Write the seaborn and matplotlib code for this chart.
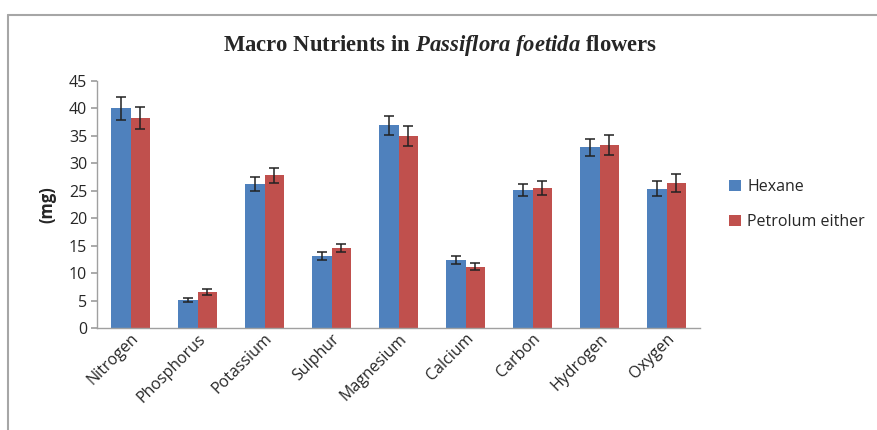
import pandas as pd
import numpy as np
import matplotlib.pyplot as plt
import seaborn as sns
from matplotlib.lines import Line2D

# ── Data ──────────────────────────────────────────────────────────────────────
nutrients = ['Nitrogen', 'Phosphorus', 'Potassium', 'Sulphur', 'Magnesium',
             'Calcium', 'Carbon', 'Hydrogen', 'Oxygen']
hexane     = [40.0, 5.1, 26.2, 13.1, 36.9, 12.4, 25.1, 32.9, 25.4]
hexane_err = [2.1, 0.3, 1.3, 0.7, 1.8, 0.7, 1.1, 1.6, 1.3]
petrol     = [38.3, 6.6, 27.8, 14.6, 35.0, 11.2, 25.5, 33.4, 26.4]
petrol_err = [2.0, 0.5, 1.3, 0.7, 1.8, 0.7, 1.3, 1.8, 1.6]
solvents = ['Hexane', 'Petrolum either']
colors = ['#4F81BD', '#C0504D']

df = pd.DataFrame({
    'Nutrient': nutrients * 2,
    'Solvent': [solvents[0]] * len(nutrients) + [solvents[1]] * len(nutrients),
    'mg': hexane + petrol,
    'err': hexane_err + petrol_err,
})

# ── Plot ──────────────────────────────────────────────────────────────────────
sns.set_theme(style='white')
plt.rcParams['font.family'] = ['Open Sans', 'DejaVu Sans']
plt.rcParams['mathtext.fontset'] = 'custom'
plt.rcParams['mathtext.rm'] = 'Liberation Serif:bold'
plt.rcParams['mathtext.it'] = 'Liberation Serif:italic:bold'
plt.rcParams['mathtext.bf'] = 'Liberation Serif:bold'

fig = plt.figure(figsize=(8.78, 4.30), dpi=100)
ax = fig.add_axes([97 / 878, 1 - 328 / 430, 603 / 878, 247 / 430])

sns.barplot(data=df, x='Nutrient', y='mg', hue='Solvent', palette=colors,
            order=nutrients, hue_order=solvents, width=0.57, gap=0,
            errorbar=None, saturation=1, ax=ax, edgecolor='none')

# error bars on top of each bar
for cont, errs in zip(ax.containers, [hexane_err, petrol_err]):
    xs = [p.get_x() + p.get_width() / 2 for p in cont.patches]
    ys = [p.get_height() for p in cont.patches]
    ax.errorbar(xs, ys, yerr=errs, fmt='none', ecolor='#222222',
                elinewidth=1.1, capsize=3.5, capthick=1.1)

ax.set_ylim(0, 45)
ax.set_yticks(range(0, 50, 5))
ax.set_xlim(-0.5, len(nutrients) - 0.5)
ax.set_xlabel('')
ax.set_ylabel('(mg)', fontsize=12, fontweight='bold', labelpad=9)
ax.tick_params(axis='y', labelsize=11.5, length=4, color='#A0A0A0',
               direction='out', left=True, pad=3)
ax.tick_params(axis='x', labelsize=11.5, length=0, pad=2)
for lbl in ax.get_xticklabels():
    lbl.set_rotation(45)
    lbl.set_ha('right')
    lbl.set_rotation_mode('anchor')
for s in ['top', 'right']:
    ax.spines[s].set_visible(False)
for s in ['left', 'bottom']:
    ax.spines[s].set_color('#A0A0A0')
    ax.spines[s].set_linewidth(1)

ax.legend(loc='center left', bbox_to_anchor=(1.025, 0.5), frameon=False,
          fontsize=11.5, handlelength=0.7, handleheight=0.7, handletextpad=0.4,
          labelspacing=1.2)

fig.text(0.501, 1 - 45 / 430,
         r'$\mathrm{Macro\ Nutrients\ in\ }\mathit{Passiflora\ foetida}\mathrm{\ flowers}$',
         ha='center', va='center', fontsize=16.3)

# outer chart frame
fig.add_artist(Line2D([8 / 878, 1], [1 - 15 / 430] * 2, color='#A6A6A6', lw=1.5,
                      transform=fig.transFigure))
fig.add_artist(Line2D([8 / 878] * 2, [0, 1 - 15 / 430], color='#A6A6A6', lw=1.5,
                      transform=fig.transFigure))

plt.savefig('out.png', dpi=100)
plt.close()
